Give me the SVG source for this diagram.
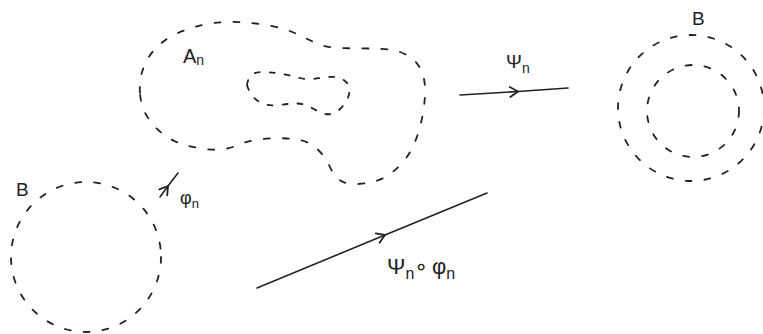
<svg xmlns="http://www.w3.org/2000/svg" width="763" height="334" viewBox="0 0 763 334">
<style>
.dash{fill:none;stroke:#222;stroke-width:1.8;stroke-linecap:round;stroke-dasharray:6 13}
.line{fill:none;stroke:#222;stroke-width:1.6;stroke-linecap:round}
.lbl{font-family:"Liberation Sans","DejaVu Sans",sans-serif;fill:#222}
</style>
<defs>
<marker id="chev" markerUnits="userSpaceOnUse" markerWidth="14" markerHeight="14" refX="9" refY="6" orient="auto">
<path d="M1,1 L9,6 L1,11" fill="none" stroke="#222" stroke-width="1.8" stroke-linecap="round"/>
</marker>
</defs>
<rect width="763" height="334" fill="#fff"/>
<g id="An">
<path class="dash" d="M140,93 C138,70 150,45 178,33 S230,20 260,24 S300,36 318,44 S380,45 400,52 S426,75 425,95 S418,145 403,162 S375,183 358,184 S335,178 330,167 S315,143 300,140 S255,137 238,145 S200,149 185,145 S142,125 140,93 Z"/>
<path class="dash" style="stroke-dasharray:5 10" d="M247,85 C248,77 252,72 262,72 S285,74 300,78 S330,73 342,79 S350,100 340,109 S322,114 312,108 S295,103 280,105 S252,102 247,85 Z"/>
<text class="lbl" x="183" y="63" font-size="20">A<tspan font-size="14" dy="2">n</tspan></text>
</g>
<g id="B-right">
<circle class="dash" cx="691" cy="108" r="73"/>
<circle class="dash" cx="693" cy="111" r="46"/>
<text class="lbl" x="692" y="25" font-size="19">B</text>
</g>
<g id="B-left">
<circle class="dash" cx="86" cy="257" r="75"/>
<text class="lbl" x="16" y="196" font-size="19">B</text>
</g>
<g id="connectors">
<path class="line" d="M460,95 L518,91.5 L568,88" marker-mid="url(#chev)"/>
<path class="line" d="M160,197 L168,186 L178,173" marker-mid="url(#chev)"/>
<path class="line" d="M257,288 L385,235 L487,193" marker-mid="url(#chev)"/>
</g>
<g id="labels">
<text class="lbl" x="506" y="68" font-size="19">Ψ<tspan font-size="14" dy="5">n</tspan></text>
<text class="lbl" x="180" y="204" font-size="18">φ<tspan font-size="13" dy="4">n</tspan></text>
<text class="lbl" x="387" y="274" font-size="22">Ψ<tspan font-size="16" dy="5">n</tspan><tspan font-size="22" dy="-5">∘</tspan><tspan dx="4">φ</tspan><tspan font-size="16" dy="5">n</tspan></text>
</g>
</svg>
